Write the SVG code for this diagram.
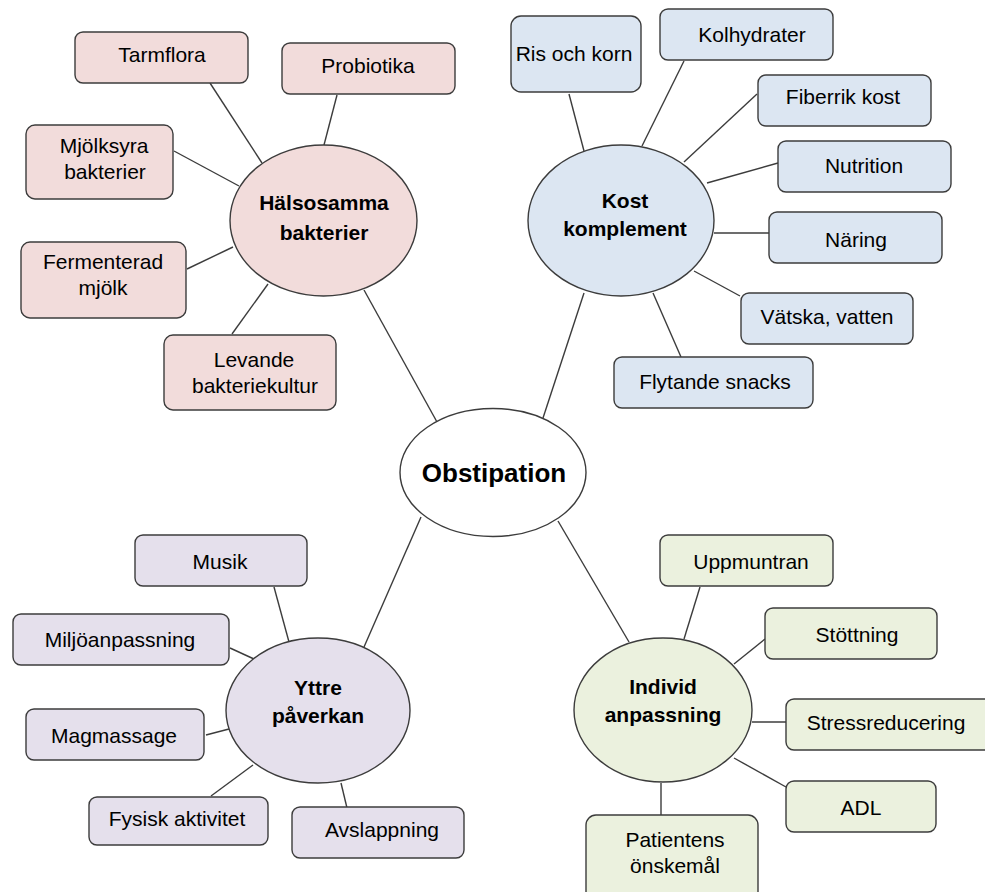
<svg xmlns="http://www.w3.org/2000/svg" width="985" height="892" viewBox="0 0 985 892">
<style>
.box{stroke:#3c3c3c;stroke-width:1.4}
.hub{stroke:#3c3c3c;stroke-width:1.4}
.pink{fill:#f2dcdb}
.blue{fill:#dce6f2}
.purple{fill:#e5e0ec}
.green{fill:#ebf1de}
.lbl{font-family:"Liberation Sans",Arial,sans-serif;font-size:21px;fill:#000;text-anchor:middle}
.hl{font-family:"Liberation Sans",Arial,sans-serif;font-size:21px;font-weight:bold;fill:#000;text-anchor:middle}
.conn line{stroke:#3c3c3c;stroke-width:1.4}
</style>
<rect width="985" height="892" fill="#fff"/>
<g class="conn" id="connectors">
<line x1="210" y1="83" x2="262" y2="163"/>
<line x1="337" y1="95" x2="324" y2="145"/>
<line x1="174" y1="151" x2="239" y2="186"/>
<line x1="187" y1="269" x2="233" y2="247"/>
<line x1="232" y1="334" x2="268" y2="284"/>
<line x1="364" y1="290" x2="437" y2="422"/>
<line x1="569" y1="94" x2="584" y2="151"/>
<line x1="684" y1="61" x2="642" y2="146"/>
<line x1="757" y1="94" x2="684" y2="162"/>
<line x1="778" y1="163" x2="707" y2="183"/>
<line x1="714" y1="233" x2="769" y2="233"/>
<line x1="694" y1="271" x2="740" y2="296"/>
<line x1="653" y1="293" x2="681" y2="357"/>
<line x1="584" y1="293" x2="543" y2="418"/>
<line x1="274" y1="587" x2="289" y2="642"/>
<line x1="230" y1="648" x2="254" y2="659"/>
<line x1="206" y1="735" x2="229" y2="729"/>
<line x1="211" y1="796" x2="253" y2="765"/>
<line x1="341" y1="783" x2="347" y2="808"/>
<line x1="364" y1="647" x2="421" y2="517"/>
<line x1="558" y1="521" x2="629" y2="642"/>
<line x1="700" y1="587" x2="684" y2="639"/>
<line x1="765" y1="639" x2="734" y2="664"/>
<line x1="752" y1="722" x2="786" y2="722"/>
<line x1="734" y1="758" x2="786" y2="787"/>
<line x1="661" y1="783" x2="661" y2="815"/>
</g>
<g id="obstipation"><ellipse class="hub" cx="493" cy="472.5" rx="93" ry="64" fill="#fff"/><text class="hl" x="494" y="482" style="font-size:26px">Obstipation</text></g>
<g id="halsosamma"><ellipse class="hub pink" cx="323.5" cy="220.5" rx="93.5" ry="75.5"/><text class="hl" x="324" y="210">Hälsosamma</text><text class="hl" x="324" y="240">bakterier</text></g>
<g id="tarmflora"><rect class="box pink" x="75" y="32" width="173" height="51" rx="8"/><text class="lbl" x="162" y="62">Tarmflora</text></g>
<g id="probiotika"><rect class="box pink" x="282" y="43" width="173" height="51" rx="8"/><text class="lbl" x="368" y="73">Probiotika</text></g>
<g id="mjolksyra"><rect class="box pink" x="26" y="125" width="147" height="74" rx="9"/><text class="lbl" x="104" y="153">Mjölksyra</text><text class="lbl" x="105" y="179">bakterier</text></g>
<g id="fermenterad"><rect class="box pink" x="21" y="242" width="165" height="76" rx="9"/><text class="lbl" x="103" y="269">Fermenterad</text><text class="lbl" x="103" y="295">mjölk</text></g>
<g id="levande"><rect class="box pink" x="164" y="335" width="172" height="75" rx="9"/><text class="lbl" x="254" y="367">Levande</text><text class="lbl" x="255" y="393">bakteriekultur</text></g>
<g id="kost"><ellipse class="hub blue" cx="621" cy="220.5" rx="93" ry="75.5"/><text class="hl" x="625" y="208">Kost</text><text class="hl" x="625" y="236">komplement</text></g>
<g id="ris"><rect class="box blue" x="511" y="16" width="130" height="76" rx="10"/><text class="lbl" x="574" y="61">Ris och korn</text></g>
<g id="kolhydrater"><rect class="box blue" x="660" y="9" width="173" height="51" rx="8"/><text class="lbl" x="752" y="42">Kolhydrater</text></g>
<g id="fiberrik"><rect class="box blue" x="758" y="75" width="173" height="51" rx="8"/><text class="lbl" x="843" y="104">Fiberrik kost</text></g>
<g id="nutrition"><rect class="box blue" x="778" y="141" width="173" height="51" rx="8"/><text class="lbl" x="864" y="173">Nutrition</text></g>
<g id="naring"><rect class="box blue" x="769" y="212" width="173" height="51" rx="8"/><text class="lbl" x="856" y="247">Näring</text></g>
<g id="vatska"><rect class="box blue" x="741" y="293" width="172" height="51" rx="8"/><text class="lbl" x="827" y="324">Vätska, vatten</text></g>
<g id="flytande"><rect class="box blue" x="614" y="357" width="199" height="51" rx="8"/><text class="lbl" x="715" y="389">Flytande snacks</text></g>
<g id="yttre"><ellipse class="hub purple" cx="318" cy="710.5" rx="92" ry="72.5"/><text class="hl" x="318" y="695">Yttre</text><text class="hl" x="318" y="723">påverkan</text></g>
<g id="musik"><rect class="box purple" x="135" y="535" width="172" height="51" rx="8"/><text class="lbl" x="220" y="569">Musik</text></g>
<g id="miljo"><rect class="box purple" x="13" y="614" width="216" height="51" rx="8"/><text class="lbl" x="120" y="647">Miljöanpassning</text></g>
<g id="magmassage"><rect class="box purple" x="26" y="709" width="178" height="51" rx="8"/><text class="lbl" x="114" y="743">Magmassage</text></g>
<g id="fysisk"><rect class="box purple" x="89" y="797" width="179" height="48" rx="8"/><text class="lbl" x="177" y="826">Fysisk aktivitet</text></g>
<g id="avslappning"><rect class="box purple" x="292" y="807" width="172" height="51" rx="8"/><text class="lbl" x="382" y="837">Avslappning</text></g>
<g id="individ"><ellipse class="hub green" cx="663" cy="710" rx="89" ry="72"/><text class="hl" x="663" y="694">Individ</text><text class="hl" x="663" y="722">anpassning</text></g>
<g id="uppmuntran"><rect class="box green" x="660" y="535" width="173" height="51" rx="8"/><text class="lbl" x="751" y="569">Uppmuntran</text></g>
<g id="stottning"><rect class="box green" x="765" y="608" width="172" height="51" rx="8"/><text class="lbl" x="857" y="642">Stöttning</text></g>
<g id="stress"><rect class="box green" x="786" y="699" width="210" height="51" rx="8"/><text class="lbl" x="886" y="730">Stressreducering</text></g>
<g id="adl"><rect class="box green" x="786" y="781" width="150" height="51" rx="8"/><text class="lbl" x="861" y="815">ADL</text></g>
<g id="patientens"><rect class="box green" x="586" y="815" width="172" height="90" rx="10"/><text class="lbl" x="675" y="847">Patientens</text><text class="lbl" x="675" y="873">önskemål</text></g>
</svg>
